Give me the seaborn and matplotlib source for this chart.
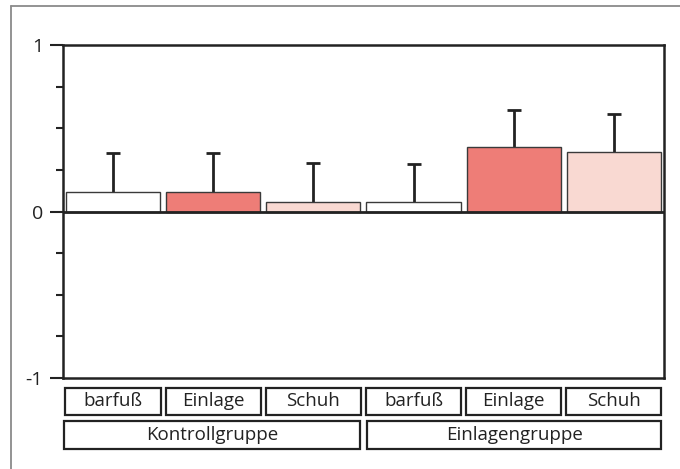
import pandas as pd
import seaborn as sns
import matplotlib.pyplot as plt
import matplotlib.ticker as mtick
from matplotlib.patches import Rectangle
from matplotlib.lines import Line2D

# ---------------------------------------------------------------------
# Data
# ---------------------------------------------------------------------
groups = ["Kontrollgruppe", "Einlagengruppe"]
conditions = ["barfuß", "Einlage", "Schuh"]
means = [0.12, 0.12, 0.06, 0.06, 0.385, 0.36]
sd_upper = [0.23, 0.23, 0.23, 0.225, 0.225, 0.225]
bar_colors = ["#FFFFFF", "#EE7D77", "#F9D9D2", "#FFFFFF", "#EE7D77", "#F9D9D2"]

slots = [f"{g} {c}" for g in groups for c in conditions]
df = pd.DataFrame({"slot": slots, "mean": means, "sd": sd_upper})

sns.set_style("white")
plt.rcParams["font.family"] = ["Open Sans", "DejaVu Sans"]

fig = plt.figure(figsize=(6.8, 4.69), dpi=100)
ax = fig.add_axes([0.0926, 0.194, 0.8838, 0.710])

# Bars
sns.barplot(
    data=df, x="slot", y="mean", hue="slot", palette=bar_colors, saturation=1,
    width=0.94, edgecolor="#3a3a3a", linewidth=1.0, legend=False, ax=ax,
    zorder=3
)

# Upper error bars only
xpos = range(len(means))
tops = [m + s for m, s in zip(means, sd_upper)]
ax.vlines(xpos, means, tops, color="#222222", lw=2, zorder=2)
ax.hlines(tops, [x - 0.07 for x in xpos], [x + 0.07 for x in xpos],
          color="#222222", lw=2, zorder=2)

# Zero line
ax.axhline(0, color="#222222", lw=2, zorder=4)

# Axis formatting
ax.set_xlim(-0.5, 5.5)
ax.set_ylim(-1, 1)
ax.set_xticks([])
ax.set_xlabel("")
ax.set_ylabel("")
ax.yaxis.set_major_locator(mtick.FixedLocator([-1, 0, 1]))
ax.yaxis.set_minor_locator(mtick.FixedLocator([-0.75, -0.5, -0.25, 0.25, 0.5, 0.75]))
ax.set_yticklabels(["-1", "0", "1"])
ax.tick_params(axis="y", which="major", length=9.5, width=1.5, color="#222222",
               labelsize=14, pad=5, left=True, labelcolor="#222222")
ax.tick_params(axis="y", which="minor", length=5, width=1.5, color="#222222", left=True)
for side in ["left", "right", "top", "bottom"]:
    ax.spines[side].set_visible(True)
    ax.spines[side].set_color("#222222")
    ax.spines[side].set_linewidth(1.8)

# Category label boxes under the axis
row1 = (-0.111, 0.081)
row2 = (-0.213, 0.084)
for i, slot in enumerate(slots):
    x0 = i - 0.475
    ax.add_patch(Rectangle((x0, row1[0]), 0.95, row1[1], transform=ax.get_xaxis_transform(),
                           fill=False, edgecolor="#222222", lw=1.6, clip_on=False))
    ax.text(i, row1[0] + row1[1] / 2, conditions[i % 3], transform=ax.get_xaxis_transform(),
            ha="center", va="center", fontsize=13.5, color="#222222")
for j, g in enumerate(groups):
    x0 = -0.49 if j == 0 else 2.535
    w = 2.96 if j == 0 else 2.94
    ax.add_patch(Rectangle((x0, row2[0]), w, row2[1], transform=ax.get_xaxis_transform(),
                           fill=False, edgecolor="#222222", lw=1.6, clip_on=False))
    ax.text(x0 + w / 2, row2[0] + row2[1] / 2, g, transform=ax.get_xaxis_transform(),
            ha="center", va="center", fontsize=13.5, color="#222222")

# Grey frame around the figure (top and left only visible)
fig.add_artist(Line2D([11 / 680, 1.0], [1 - 6 / 469, 1 - 6 / 469], color="#8a8a8a", lw=1.3))
fig.add_artist(Line2D([11 / 680, 11 / 680], [0.0, 1 - 6 / 469], color="#8a8a8a", lw=1.3))

fig.savefig("out.png", dpi=100)
